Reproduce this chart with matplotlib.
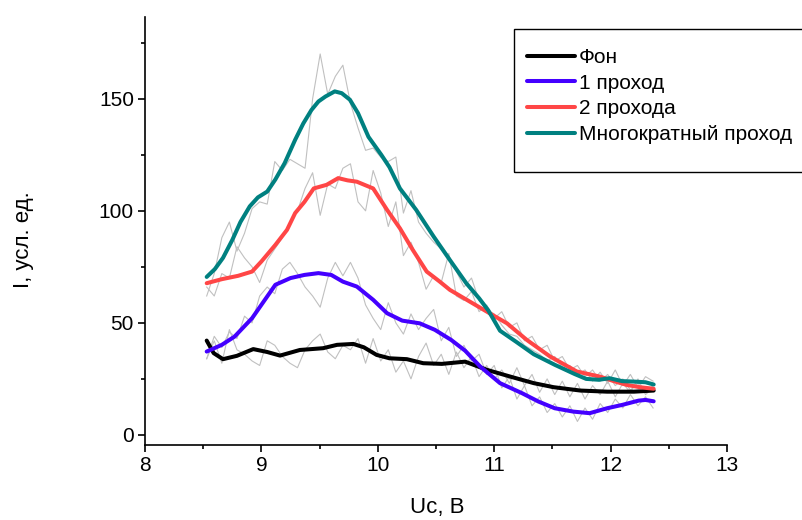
import numpy as np
import matplotlib
matplotlib.use("Agg")
import matplotlib.pyplot as plt
from matplotlib.patches import Rectangle
from matplotlib.ticker import MultipleLocator

plt.rcParams["font.family"] = ["Liberation Sans", "DejaVu Sans"]

# raw spectra, common voltage grid
x_raw = np.round(8.53 + 0.065 * np.arange(60), 3)

raw_fon = [34, 42, 32, 47, 38, 36, 33, 31, 42, 40, 35, 32, 30, 38, 42, 45, 37, 34, 40, 38,
           43, 32, 43, 33, 38, 28, 33, 25, 35, 41, 31, 36, 27, 37, 30, 35, 26, 31, 25, 29,
           23, 30, 22, 27, 19, 25, 18, 24, 17, 23, 16, 22, 18, 24, 17, 23, 19, 25, 18, 21]
raw_p1 = [34, 44, 39, 46, 43, 53, 50, 62, 66, 63, 74, 77, 72, 66, 62, 57, 70, 77, 71, 77,
          70, 58, 52, 47, 59, 50, 45, 54, 47, 52, 56, 42, 48, 35, 40, 33, 36, 27, 31, 21,
          26, 16, 22, 13, 17, 10, 14, 8, 13, 6, 12, 7, 14, 10, 16, 12, 18, 13, 17, 12]
raw_p2 = [66, 62, 72, 70, 84, 79, 75, 68, 78, 83, 88, 95, 100, 110, 117, 98, 112, 110, 119, 121,
          104, 100, 118, 108, 93, 104, 80, 86, 77, 65, 71, 68, 81, 62, 60, 64, 55, 58, 52, 55,
          48, 50, 42, 44, 38, 40, 33, 35, 29, 31, 26, 29, 24, 27, 22, 25, 20, 23, 19, 22]
raw_multi = [62, 72, 88, 95, 82, 90, 101, 104, 103, 122, 118, 123, 121, 119, 150, 170, 152, 160, 165, 148,
             137, 127, 128, 124, 122, 124, 99, 109, 95, 90, 86, 83, 80, 73, 66, 70, 60, 56, 54, 49,
             45, 44, 40, 38, 36, 33, 35, 30, 31, 27, 29, 24, 28, 23, 29, 22, 27, 21, 26, 24]

# smoothed curves
x_fon = [8.53, 8.59, 8.67, 8.79, 8.93, 9.05, 9.16, 9.33, 9.53, 9.65, 9.79, 9.88, 9.99,
         10.10, 10.25, 10.39, 10.55, 10.75, 10.94, 11.14, 11.34, 11.51, 11.74, 11.97, 12.20, 12.37]
y_fon = [42.1, 36.5, 33.8, 35.3, 38.3, 37.0, 35.4, 37.9, 38.7, 40.2, 40.6, 39.1, 35.7,
         34.2, 33.8, 32.0, 31.7, 32.7, 29.0, 26.0, 23.1, 21.3, 19.8, 19.3, 19.3, 19.8]

x_p1 = [8.53, 8.66, 8.77, 8.92, 9.03, 9.12, 9.25, 9.37, 9.49, 9.60, 9.70, 9.82, 9.96, 10.08,
        10.21, 10.36, 10.49, 10.63, 10.75, 10.88, 11.05, 11.24, 11.38, 11.52, 11.68, 11.82,
        11.97, 12.10, 12.24, 12.30, 12.37]
y_p1 = [37.2, 40.2, 43.9, 52.1, 60.3, 67.0, 70.0, 71.4, 72.2, 71.4, 68.4, 66.2, 60.3, 54.3,
        51.0, 49.8, 46.9, 42.4, 37.6, 30.5, 23.1, 18.6, 14.9, 11.9, 10.4, 9.7,
        11.9, 13.4, 15.3, 15.6, 15.0]

x_p2 = [8.53, 8.66, 8.80, 8.92, 9.00, 9.12, 9.22, 9.29, 9.37, 9.45, 9.56, 9.66, 9.74, 9.82,
        9.96, 10.08, 10.19, 10.30, 10.42, 10.53, 10.62, 10.79, 10.96, 11.11, 11.28, 11.48,
        11.71, 11.91, 12.04, 12.14, 12.25, 12.37]
y_p2 = [67.7, 69.5, 71.0, 72.9, 77.4, 84.8, 91.5, 99.0, 104.0, 110.0, 111.6, 114.6, 113.6, 113.0,
        110.0, 100.4, 92.2, 82.6, 72.9, 68.5, 64.7, 59.5, 54.3, 49.8, 42.4, 35.0,
        28.3, 26.0, 23.8, 22.3, 21.3, 20.6]

x_multi = [8.53, 8.60, 8.67, 8.75, 8.82, 8.90, 8.97, 9.05, 9.12, 9.20, 9.29, 9.36, 9.43, 9.49,
           9.55, 9.63, 9.69, 9.76, 9.83, 9.92, 10.03, 10.10, 10.19, 10.33, 10.48, 10.62, 10.76,
           10.87, 10.95, 11.05, 11.19, 11.34, 11.52, 11.69, 11.79, 11.90, 11.99, 12.10, 12.20,
           12.30, 12.37]
y_multi = [70.5, 74.0, 79.0, 87.0, 95.0, 102.0, 106.0, 108.6, 114.0, 121.3, 131.7, 139.0, 145.0, 148.8,
           151.0, 153.3, 152.5, 149.6, 143.6, 133.0, 125.0, 119.5, 110.0, 100.4, 88.5, 78.0, 67.7,
           61.0, 55.5, 46.5, 41.5, 36.0, 31.3, 27.2, 25.0, 24.6, 25.3, 24.0, 23.8,
           23.5, 22.5]

labels = ["Фон", "1 проход", "2 прохода", "Многократный проход"]
colors = ["#000000", "#4400FF", "#FF4646", "#008080"]

fig = plt.figure(figsize=(8.02, 5.20), dpi=100)
ax = fig.add_axes([145 / 802, 75 / 520, 582 / 802, 428 / 520])

for raw in (raw_fon, raw_p1, raw_p2, raw_multi):
    ax.plot(x_raw, raw, color="#C0C0C0", lw=0.8, zorder=1)

handles = []
for xs, ys, c, lab in zip((x_fon, x_p1, x_p2, x_multi), (y_fon, y_p1, y_p2, y_multi), colors, labels):
    h, = ax.plot(xs, ys, color=c, lw=2.9, label=lab, zorder=3,
                 solid_capstyle="round", solid_joinstyle="round")
    handles.append(h)

ax.set_xlim(8, 13)
ax.set_ylim(-4.5, 186.5)
ax.xaxis.set_major_locator(MultipleLocator(1))
ax.xaxis.set_minor_locator(MultipleLocator(0.5))
ax.yaxis.set_major_locator(MultipleLocator(50))
ax.yaxis.set_minor_locator(MultipleLocator(25))

for s in ("top", "right"):
    ax.spines[s].set_visible(False)
for s in ("left", "bottom"):
    ax.spines[s].set_linewidth(1.2)

ax.tick_params(which="major", direction="out", length=5, width=1.2, labelsize=15, pad=3)
ax.tick_params(which="minor", direction="out", length=3, width=1.2)

ax.set_xlabel("Uc, B", fontsize=16)
ax.set_ylabel("I, усл. ед.", fontsize=16)
ax.xaxis.set_label_coords(0.503, -0.121)
ax.yaxis.set_label_coords(-0.19, 0.48)

# legend box, running off the right edge
fig.patches.append(Rectangle((514 / 802, 1 - 172 / 520), 300 / 802, 143 / 520,
                             transform=fig.transFigure, fill=False, edgecolor="#000000",
                             lw=1.0, zorder=5))
fig.legend(handles=handles, loc="upper left", bbox_to_anchor=(527 / 802, 1 - 48 / 520),
           frameon=False, fontsize=15, handlelength=2.3, handletextpad=0.2,
           labelspacing=0.32, borderpad=0, borderaxespad=0)

fig.savefig("out.png", dpi=100)
